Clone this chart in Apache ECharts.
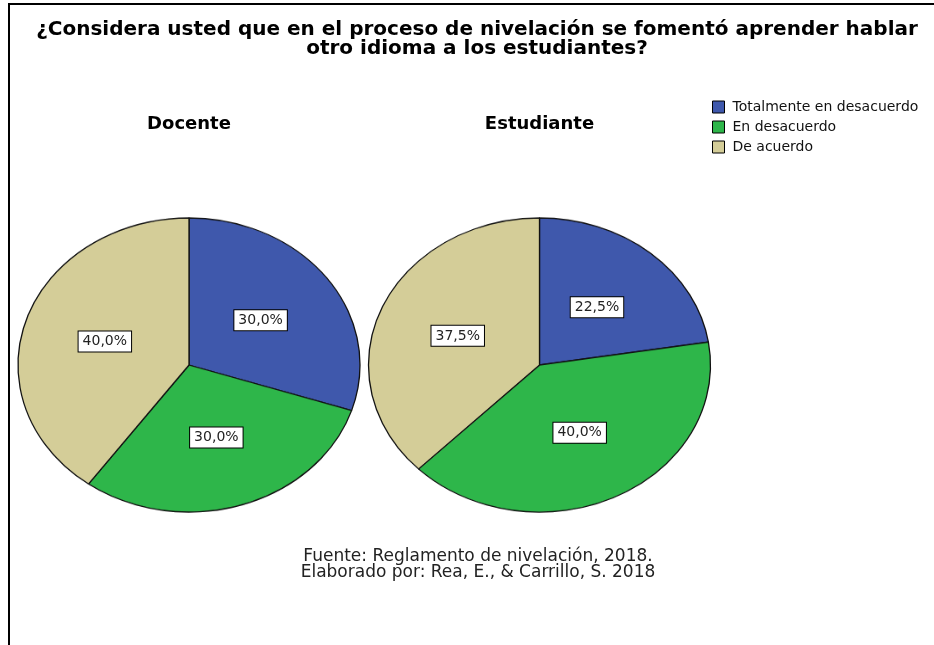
<!DOCTYPE html>
<html>
<head>
<meta charset="utf-8">
<script src="https://cdn.jsdelivr.net/npm/echarts@6/dist/echarts.min.js"></script>
<style>
  html, body { margin: 0; padding: 0; background: #fff; }
  #wrap { position: relative; width: 934px; height: 645px; }
  #pies, #main { position: absolute; left: 0; top: 0; width: 934px; height: 645px; }
  /* SPSS draws the pies as flattened ellipses */
  #pies { transform: scaleY(0.86); transform-origin: 0 365px; }
</style>
</head>
<body>
<div id="wrap">
  <div id="pies"></div>
  <div id="main"></div>
</div>
<script>
const categories = ['Totalmente en desacuerdo', 'En desacuerdo', 'De acuerdo'];
const colors = ['#3F58AC', '#2EB64A', '#D4CD98'];
const docente = [30.0, 30.0, 40.0];
const estudiante = [22.5, 40.0, 37.5];
const groups = ['Docente', 'Estudiante'];

const centers = [[189, 365], [539.5, 365]];
const radius = 171;
const squash = 0.86;

function toData(values, transparent) {
  return values.map((v, i) => ({
    value: v,
    name: categories[i],
    itemStyle: { color: transparent ? 'rgba(0,0,0,0)' : colors[i] },
  }));
}

// layer 1: the pie slices (squashed by css)
const pieChart = echarts.init(document.getElementById('pies'));
pieChart.setOption({
  animation: false,
  series: [docente, estudiante].map((vals, k) => ({
    type: 'pie',
    center: centers[k],
    radius: radius,
    startAngle: 90,
    silent: true,
    label: { show: false },
    labelLine: { show: false },
    itemStyle: { borderColor: '#111', borderWidth: 1.3 },
    data: toData(vals, false),
  })),
});

// layer 2: texts, legend and slice labels
const myChart = echarts.init(document.getElementById('main'));
const fmt = (p) => p.value.toFixed(1).replace('.', ',') + '%';
myChart.setOption({
  animation: false,
  legend: {
    orient: 'vertical',
    left: 712,
    top: 100,
    padding: 0,
    itemWidth: 12,
    itemHeight: 12,
    itemGap: 6,
    icon: 'rect',
    selectedMode: false,
    textStyle: { fontFamily: 'DejaVu Sans', fontSize: 14, color: '#111', padding: [0, 0, 0, 3] },
    data: categories.map((c, i) => ({
      name: c,
      itemStyle: { color: colors[i], borderColor: '#000', borderWidth: 1, opacity: 1 },
    })),
  },
  graphic: [
    { type: 'line', shape: { x1: 8, y1: 4, x2: 934, y2: 4 }, style: { stroke: '#000', lineWidth: 2 } },
    { type: 'line', shape: { x1: 9, y1: 3, x2: 9, y2: 645 }, style: { stroke: '#000', lineWidth: 2 } },
    {
      type: 'text', x: 477, y: 20,
      style: {
        text: '¿Considera usted que en el proceso de nivelación se fomentó aprender hablar\notro idioma a los estudiantes?',
        align: 'center', fontFamily: 'DejaVu Sans', fontWeight: 'bold', fontSize: 20, lineHeight: 19, fill: '#000',
      },
    },
    {
      type: 'text', x: centers[0][0], y: 115,
      style: { text: groups[0], align: 'center', fontFamily: 'DejaVu Sans', fontWeight: 'bold', fontSize: 18, fill: '#000' },
    },
    {
      type: 'text', x: centers[1][0], y: 115,
      style: { text: groups[1], align: 'center', fontFamily: 'DejaVu Sans', fontWeight: 'bold', fontSize: 18, fill: '#000' },
    },
    {
      type: 'text', x: 478, y: 549,
      style: {
        text: 'Fuente: Reglamento de nivelación, 2018.\nElaborado por: Rea, E., & Carrillo, S. 2018',
        align: 'center', fontFamily: 'DejaVu Sans', fontSize: 17, lineHeight: 16, fill: '#222',
      },
    },
  ],
  series: [docente, estudiante].map((vals, k) => ({
    type: 'pie',
    name: groups[k],
    center: centers[k],
    radius: radius,
    startAngle: 90,
    silent: true,
    labelLine: { show: false },
    label: {
      show: true,
      position: 'inside',
      formatter: fmt,
      fontFamily: 'DejaVu Sans',
      fontSize: 14,
      color: '#222',
      backgroundColor: '#fff',
      borderColor: '#000',
      borderWidth: 1,
      padding: [3, 4],
    },
    labelLayout: (p) => {
      const cy = centers[p.seriesIndex][1];
      const my = p.labelRect.y + p.labelRect.height / 2;
      return { y: cy + (my - cy) * squash };
    },
    data: toData(vals, true),
  })),
});
</script>
</body>
</html>
